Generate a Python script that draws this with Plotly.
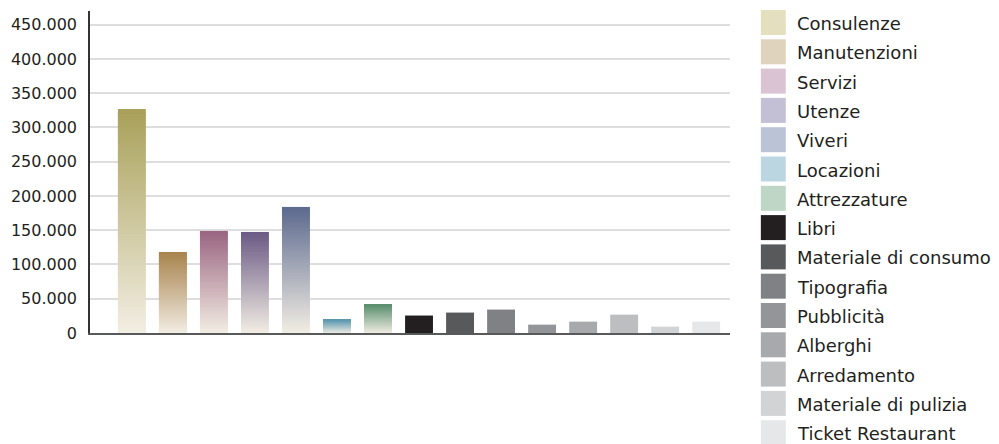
import plotly.graph_objects as go

# ---- data ----
categories = ["Consulenze", "Manutenzioni", "Servizi", "Utenze", "Viveri", "Locazioni",
              "Attrezzature", "Libri", "Materiale di consumo", "Tipografia", "Pubblicità",
              "Alberghi", "Arredamento", "Materiale di pulizia", "Ticket Restaurant"]
values = [327000, 118000, 149000, 147500, 184000, 19500, 41500, 25500, 29800, 34200,
          12200, 16600, 26800, 9300, 16600]
top_colors = ["#a9a15a", "#a8844f", "#9a6581", "#6b5a85", "#5d6a8f", "#5a97ae", "#5b8f6e",
              "#231f20", "#58595b", "#808184", "#939598", "#a7a9ac", "#bcbec0", "#d1d3d4", "#e6e7e8"]
gradient = [True, True, True, True, True, True, True,
            False, False, False, False, False, False, False, False]
legend_colors = ["#e3dfbf", "#e0d3bd", "#dac3d3", "#c3bfd4", "#bbc3d6", "#bcd6e1", "#bfd6c7",
                 "#231f20", "#58595b", "#808184", "#939598", "#a7a9ac", "#bcbec0", "#d1d3d4", "#e6e7e8"]
tick_vals = [0, 50000, 100000, 150000, 200000, 250000, 300000, 350000, 400000, 450000]
tick_text = ["0", "50.000", "100.000", "150.000", "200.000", "250.000", "300.000",
             "350.000", "400.000", "450.000"]

BOTTOM = "#f3eee4"
N = 80
FONT = "DejaVu Sans, Verdana, sans-serif"
OFF = 8  # page body margin


def hex2rgb(h):
    h = h.lstrip("#")
    return tuple(int(h[i:i + 2], 16) for i in (0, 2, 4))


def mix(c1, c2, t):
    a, b = hex2rgb(c1), hex2rgb(c2)
    return "rgb(%d,%d,%d)" % tuple(round(a[i] + (b[i] - a[i]) * t) for i in range(3))


idx = list(range(len(categories)))
fig = go.Figure()

# gradient bars drawn as stacked slices of each value (slices overlap slightly to hide seams)
g_idx = [i for i in idx if gradient[i]]
for k in range(N):
    t = (k + 0.5) / N
    lo = max(0.0, (k - 0.6) / N)
    hi = (k + 1) / N
    fig.add_trace(go.Bar(
        x=g_idx,
        y=[values[i] * (hi - lo) for i in g_idx],
        base=[values[i] * lo for i in g_idx],
        marker=dict(color=[mix(BOTTOM, top_colors[i], t) for i in g_idx], line=dict(width=0)),
        width=0.68, showlegend=False, hoverinfo="skip"))

# solid bars
s_idx = [i for i in idx if not gradient[i]]
fig.add_trace(go.Bar(
    x=s_idx, y=[values[i] for i in s_idx],
    marker=dict(color=[top_colors[i] for i in s_idx], line=dict(width=0)),
    width=0.68, showlegend=False,
    hovertext=[categories[i] for i in s_idx]))

# legend built from shapes + text (target pixel positions in the 999x444 view)
W, H = 999 - OFF, 444 - OFF
L, T = 87 - OFF, 11 - OFF
R = 999 - 730
B = 444 - 333
pw, ph = W - L - R, H - T - B
plot_bottom = 333 - OFF
pitch = 29.3
for i, name in enumerate(categories):
    top = 10 - OFF + i * pitch
    fig.add_shape(type="rect", xref="paper", yref="paper",
                  x0=(761 - OFF - L) / pw, x1=(786 - OFF - L) / pw,
                  y0=(plot_bottom - top) / ph, y1=(plot_bottom - top - 25) / ph,
                  fillcolor=legend_colors[i], line=dict(width=0))
    fig.add_annotation(xref="paper", yref="paper", x=(795 - OFF - L) / pw,
                       y=(plot_bottom - top - 13.5) / ph, text=name, showarrow=False,
                       xanchor="left", yanchor="middle",
                       font=dict(family=FONT, size=18, color="#231f20"))

fig.update_layout(
    width=W, height=H, margin=dict(l=L, r=R, t=T, b=B),
    paper_bgcolor="white", plot_bgcolor="white",
    barmode="overlay", bargap=0.32,
    font=dict(family=FONT, size=16, color="#231f20"),
    showlegend=False,
    xaxis=dict(range=[-1.02, 14.58], showticklabels=False, showgrid=False, zeroline=False,
               showline=True, linecolor="#58595b", linewidth=2, ticks=""),
    yaxis=dict(range=[0, 470000], tickvals=tick_vals, ticktext=tick_text,
               showgrid=True, gridcolor="#dedede", gridwidth=2, zeroline=False,
               showline=True, linecolor="#333333", linewidth=1.5, ticks="",
               ticklabelstandoff=8,
               tickfont=dict(family=FONT, size=16, color="#231f20")),
)

fig.write_html("out.html")
